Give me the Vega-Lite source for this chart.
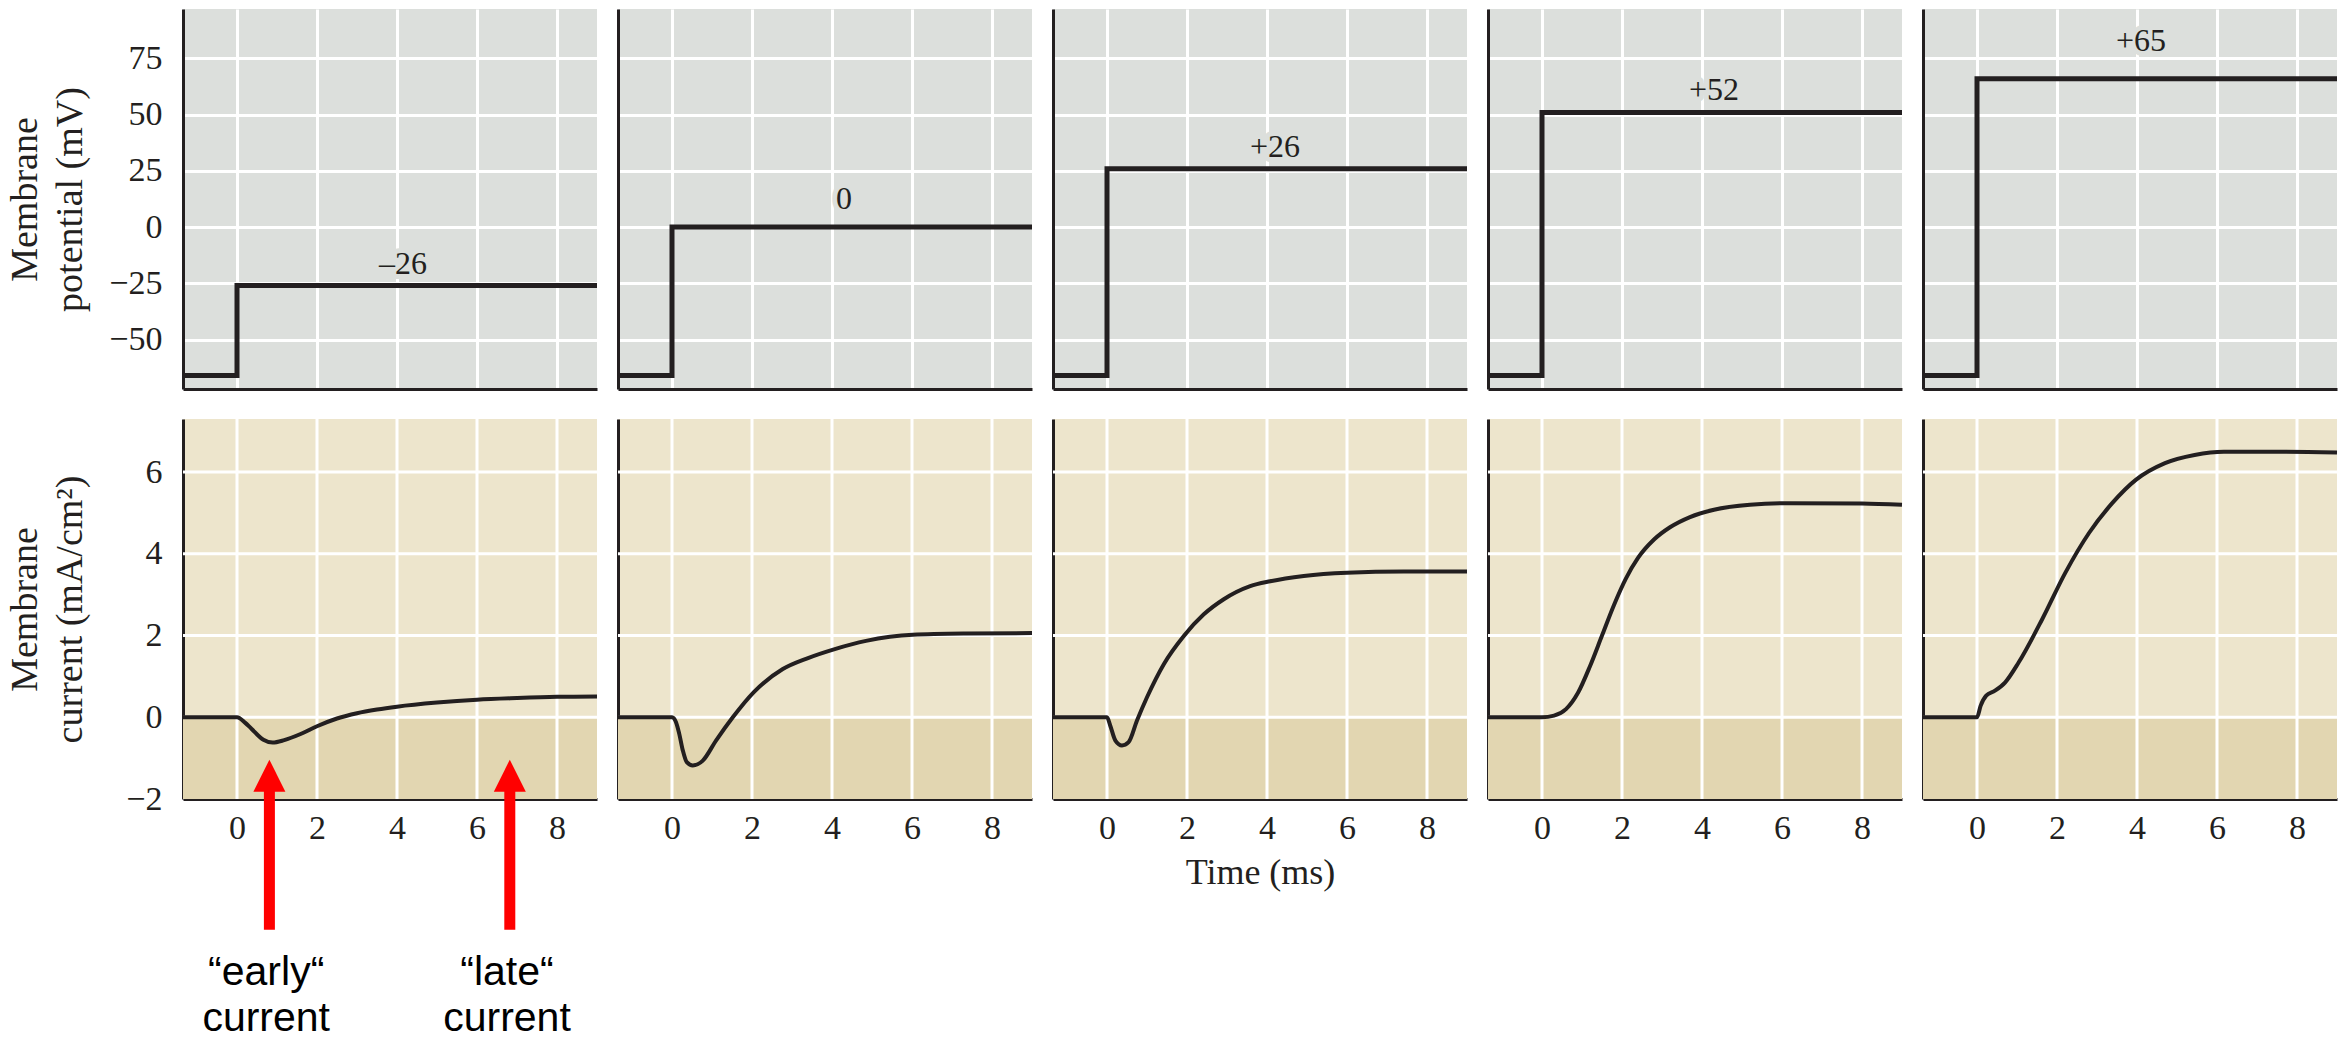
{
  "$schema": "https://vega.github.io/schema/vega-lite/v6.json",
  "padding": {"left": 6, "top": 9, "right": 4, "bottom": 0},
  "background": "#ffffff",
  "columns": 5,
  "spacing": {"row": 28, "column": 1},
  "datasets": {
    "vstep": [
      {"p": -26, "t": -1.35, "v": -66}, {"p": -26, "t": 0, "v": -26}, {"p": -26, "t": 9, "v": -26},
      {"p": 0, "t": -1.35, "v": -66}, {"p": 0, "t": 0, "v": 0}, {"p": 0, "t": 9, "v": 0},
      {"p": 26, "t": -1.35, "v": -66}, {"p": 26, "t": 0, "v": 26}, {"p": 26, "t": 9, "v": 26},
      {"p": 52, "t": -1.35, "v": -66}, {"p": 52, "t": 0, "v": 51}, {"p": 52, "t": 9, "v": 51},
      {"p": 65, "t": -1.35, "v": -66}, {"p": 65, "t": 0, "v": 66}, {"p": 65, "t": 9, "v": 66}
    ],
    "vlab": [
      {"p": -26, "t": 4.15, "ly": -16.3, "label": "–26"},
      {"p": 0, "t": 4.3, "ly": 12.5, "label": "0"},
      {"p": 26, "t": 4.2, "ly": 35.7, "label": "+26"},
      {"p": 52, "t": 4.3, "ly": 61, "label": "+52"},
      {"p": 65, "t": 4.1, "ly": 82.6, "label": "+65"}
    ],
    "cur": [
      {"p": -26, "t": -1.35, "i": 0}, {"p": -26, "t": 0, "i": 0}, {"p": -26, "t": 0.2, "i": -0.13}, {"p": -26, "t": 0.36, "i": -0.28},
      {"p": -26, "t": 0.66, "i": -0.55}, {"p": -26, "t": 0.89, "i": -0.62}, {"p": -26, "t": 1.18, "i": -0.56}, {"p": -26, "t": 1.59, "i": -0.41},
      {"p": -26, "t": 2.0, "i": -0.22}, {"p": -26, "t": 2.5, "i": -0.03}, {"p": -26, "t": 3.0, "i": 0.1}, {"p": -26, "t": 3.5, "i": 0.19},
      {"p": -26, "t": 4.0, "i": 0.26}, {"p": -26, "t": 5.0, "i": 0.36}, {"p": -26, "t": 6.0, "i": 0.43}, {"p": -26, "t": 7.0, "i": 0.47},
      {"p": -26, "t": 8.0, "i": 0.5}, {"p": -26, "t": 9.0, "i": 0.51},

      {"p": 0, "t": -1.35, "i": 0}, {"p": 0, "t": 0, "i": 0}, {"p": 0, "t": 0.1, "i": -0.12}, {"p": 0, "t": 0.18, "i": -0.4},
      {"p": 0, "t": 0.27, "i": -0.81}, {"p": 0, "t": 0.37, "i": -1.1}, {"p": 0, "t": 0.52, "i": -1.18}, {"p": 0, "t": 0.77, "i": -1.06},
      {"p": 0, "t": 1.1, "i": -0.57}, {"p": 0, "t": 1.52, "i": 0}, {"p": 0, "t": 2.04, "i": 0.61}, {"p": 0, "t": 2.77, "i": 1.18},
      {"p": 0, "t": 3.4, "i": 1.45}, {"p": 0, "t": 4.07, "i": 1.67}, {"p": 0, "t": 4.85, "i": 1.87}, {"p": 0, "t": 6.02, "i": 2.02},
      {"p": 0, "t": 7.35, "i": 2.05}, {"p": 0, "t": 9.0, "i": 2.06},

      {"p": 26, "t": -1.35, "i": 0}, {"p": 26, "t": 0, "i": 0}, {"p": 26, "t": 0.08, "i": -0.2}, {"p": 26, "t": 0.21, "i": -0.57},
      {"p": 26, "t": 0.375, "i": -0.69}, {"p": 26, "t": 0.54, "i": -0.61}, {"p": 26, "t": 0.75, "i": -0.08}, {"p": 26, "t": 1.0, "i": 0.49},
      {"p": 26, "t": 1.42, "i": 1.3}, {"p": 26, "t": 1.92, "i": 1.99}, {"p": 26, "t": 2.42, "i": 2.52}, {"p": 26, "t": 2.92, "i": 2.89},
      {"p": 26, "t": 3.58, "i": 3.21}, {"p": 26, "t": 4.08, "i": 3.33}, {"p": 26, "t": 4.92, "i": 3.46}, {"p": 26, "t": 6.0, "i": 3.54},
      {"p": 26, "t": 7.42, "i": 3.57}, {"p": 26, "t": 9.0, "i": 3.57},

      {"p": 52, "t": -1.35, "i": 0}, {"p": 52, "t": 0, "i": 0}, {"p": 52, "t": 0.3, "i": 0.04}, {"p": 52, "t": 0.6, "i": 0.2},
      {"p": 52, "t": 0.9, "i": 0.6}, {"p": 52, "t": 1.2, "i": 1.25}, {"p": 52, "t": 1.5, "i": 2.0}, {"p": 52, "t": 1.8, "i": 2.75},
      {"p": 52, "t": 2.1, "i": 3.4}, {"p": 52, "t": 2.4, "i": 3.9}, {"p": 52, "t": 2.8, "i": 4.35}, {"p": 52, "t": 3.2, "i": 4.65},
      {"p": 52, "t": 3.7, "i": 4.9}, {"p": 52, "t": 4.3, "i": 5.08}, {"p": 52, "t": 5.2, "i": 5.2}, {"p": 52, "t": 6.2, "i": 5.24},
      {"p": 52, "t": 8.0, "i": 5.23}, {"p": 52, "t": 9.0, "i": 5.2},

      {"p": 65, "t": -1.35, "i": 0}, {"p": 65, "t": 0, "i": 0}, {"p": 65, "t": 0.09, "i": 0.28}, {"p": 65, "t": 0.23, "i": 0.53},
      {"p": 65, "t": 0.45, "i": 0.65}, {"p": 65, "t": 0.7, "i": 0.85}, {"p": 65, "t": 1.04, "i": 1.34}, {"p": 65, "t": 1.63, "i": 2.4},
      {"p": 65, "t": 2.21, "i": 3.54}, {"p": 65, "t": 2.8, "i": 4.51}, {"p": 65, "t": 3.38, "i": 5.24}, {"p": 65, "t": 3.97, "i": 5.81},
      {"p": 65, "t": 4.7, "i": 6.22}, {"p": 65, "t": 5.44, "i": 6.42}, {"p": 65, "t": 6.17, "i": 6.5}, {"p": 65, "t": 7.6, "i": 6.5},
      {"p": 65, "t": 9.0, "i": 6.48}
    ],
    "shade": [{"t": -1.35, "t2": 9, "y": 0, "y2": -2}],
    "gx": [{"t": 0}, {"t": 2}, {"t": 4}, {"t": 6}, {"t": 8}],
    "gy": [{"y": 0}, {"y": 2}, {"y": 4}, {"y": 6}],
    "arrows": [
      {"t": 0.81, "yh": -1.43, "ys": -1.7, "yb": -5.2},
      {"t": 6.82, "yh": -1.43, "ys": -1.7, "yb": -5.2}
    ],
    "notes": [
      {"t": 0.73, "y": -6.56, "label": "“early“\ncurrent"},
      {"t": 6.75, "y": -6.56, "label": "“late“\ncurrent"}
    ]
  },
  "concat": [
    {"width": 414, "height": 380, "view": {"fill": "#dcdfdc"}, "layer": [
      {"data": {"name": "vstep"}, "transform": [{"filter": "datum.p == -26"}],
       "mark": {"type": "line", "interpolate": "step-after", "color": "#231f20", "strokeWidth": 5},
       "encoding": {
         "x": {"field": "t", "type": "quantitative", "scale": {"domain": [-1.35, 9], "nice": false, "zero": false}, "axis": {"values": [0, 2, 4, 6, 8], "labels": false, "title": null, "grid": true}},
         "y": {"field": "v", "type": "quantitative", "scale": {"domain": [-72, 97], "nice": false, "zero": false}, "axis": {"values": [-50, -25, 0, 25, 50, 75], "grid": true, "title": ["Membrane", "potential (mV)"], "minExtent": 74, "maxExtent": 74}}}},
      {"data": {"name": "vlab"}, "transform": [{"filter": "datum.p == -26"}],
       "mark": {"type": "text", "font": "Liberation Serif", "fontSize": 32, "baseline": "middle", "fill": "#dcdfdc", "stroke": "#dcdfdc", "strokeWidth": 10, "strokeJoin": "round"},
       "encoding": {"x": {"field": "t", "type": "quantitative"}, "y": {"field": "ly", "type": "quantitative"}, "text": {"field": "label"}}},
      {"data": {"name": "vlab"}, "transform": [{"filter": "datum.p == -26"}],
       "mark": {"type": "text", "font": "Liberation Serif", "fontSize": 32, "baseline": "middle", "color": "#231f20"},
       "encoding": {"x": {"field": "t", "type": "quantitative"}, "y": {"field": "ly", "type": "quantitative"}, "text": {"field": "label"}}}
    ]},
    {"width": 414, "height": 380, "view": {"fill": "#dcdfdc"}, "layer": [
      {"data": {"name": "vstep"}, "transform": [{"filter": "datum.p == 0"}],
       "mark": {"type": "line", "interpolate": "step-after", "color": "#231f20", "strokeWidth": 5},
       "encoding": {
         "x": {"field": "t", "type": "quantitative", "scale": {"domain": [-1.35, 9], "nice": false, "zero": false}, "axis": {"values": [0, 2, 4, 6, 8], "labels": false, "title": null, "grid": true}},
         "y": {"field": "v", "type": "quantitative", "scale": {"domain": [-72, 97], "nice": false, "zero": false}, "axis": {"values": [-50, -25, 0, 25, 50, 75], "grid": true, "labels": false, "labelPadding": 0, "title": null, "minExtent": 0}}}},
      {"data": {"name": "vlab"}, "transform": [{"filter": "datum.p == 0"}],
       "mark": {"type": "text", "font": "Liberation Serif", "fontSize": 32, "baseline": "middle", "fill": "#dcdfdc", "stroke": "#dcdfdc", "strokeWidth": 10, "strokeJoin": "round"},
       "encoding": {"x": {"field": "t", "type": "quantitative"}, "y": {"field": "ly", "type": "quantitative"}, "text": {"field": "label"}}},
      {"data": {"name": "vlab"}, "transform": [{"filter": "datum.p == 0"}],
       "mark": {"type": "text", "font": "Liberation Serif", "fontSize": 32, "baseline": "middle", "color": "#231f20"},
       "encoding": {"x": {"field": "t", "type": "quantitative"}, "y": {"field": "ly", "type": "quantitative"}, "text": {"field": "label"}}}
    ]},
    {"width": 414, "height": 380, "view": {"fill": "#dcdfdc"}, "layer": [
      {"data": {"name": "vstep"}, "transform": [{"filter": "datum.p == 26"}],
       "mark": {"type": "line", "interpolate": "step-after", "color": "#231f20", "strokeWidth": 5},
       "encoding": {
         "x": {"field": "t", "type": "quantitative", "scale": {"domain": [-1.35, 9], "nice": false, "zero": false}, "axis": {"values": [0, 2, 4, 6, 8], "labels": false, "title": null, "grid": true}},
         "y": {"field": "v", "type": "quantitative", "scale": {"domain": [-72, 97], "nice": false, "zero": false}, "axis": {"values": [-50, -25, 0, 25, 50, 75], "grid": true, "labels": false, "labelPadding": 0, "title": null, "minExtent": 0}}}},
      {"data": {"name": "vlab"}, "transform": [{"filter": "datum.p == 26"}],
       "mark": {"type": "text", "font": "Liberation Serif", "fontSize": 32, "baseline": "middle", "fill": "#dcdfdc", "stroke": "#dcdfdc", "strokeWidth": 10, "strokeJoin": "round"},
       "encoding": {"x": {"field": "t", "type": "quantitative"}, "y": {"field": "ly", "type": "quantitative"}, "text": {"field": "label"}}},
      {"data": {"name": "vlab"}, "transform": [{"filter": "datum.p == 26"}],
       "mark": {"type": "text", "font": "Liberation Serif", "fontSize": 32, "baseline": "middle", "color": "#231f20"},
       "encoding": {"x": {"field": "t", "type": "quantitative"}, "y": {"field": "ly", "type": "quantitative"}, "text": {"field": "label"}}}
    ]},
    {"width": 414, "height": 380, "view": {"fill": "#dcdfdc"}, "layer": [
      {"data": {"name": "vstep"}, "transform": [{"filter": "datum.p == 52"}],
       "mark": {"type": "line", "interpolate": "step-after", "color": "#231f20", "strokeWidth": 5},
       "encoding": {
         "x": {"field": "t", "type": "quantitative", "scale": {"domain": [-1.35, 9], "nice": false, "zero": false}, "axis": {"values": [0, 2, 4, 6, 8], "labels": false, "title": null, "grid": true}},
         "y": {"field": "v", "type": "quantitative", "scale": {"domain": [-72, 97], "nice": false, "zero": false}, "axis": {"values": [-50, -25, 0, 25, 50, 75], "grid": true, "labels": false, "labelPadding": 0, "title": null, "minExtent": 0}}}},
      {"data": {"name": "vlab"}, "transform": [{"filter": "datum.p == 52"}],
       "mark": {"type": "text", "font": "Liberation Serif", "fontSize": 32, "baseline": "middle", "fill": "#dcdfdc", "stroke": "#dcdfdc", "strokeWidth": 10, "strokeJoin": "round"},
       "encoding": {"x": {"field": "t", "type": "quantitative"}, "y": {"field": "ly", "type": "quantitative"}, "text": {"field": "label"}}},
      {"data": {"name": "vlab"}, "transform": [{"filter": "datum.p == 52"}],
       "mark": {"type": "text", "font": "Liberation Serif", "fontSize": 32, "baseline": "middle", "color": "#231f20"},
       "encoding": {"x": {"field": "t", "type": "quantitative"}, "y": {"field": "ly", "type": "quantitative"}, "text": {"field": "label"}}}
    ]},
    {"width": 414, "height": 380, "view": {"fill": "#dcdfdc"}, "layer": [
      {"data": {"name": "vstep"}, "transform": [{"filter": "datum.p == 65"}],
       "mark": {"type": "line", "interpolate": "step-after", "color": "#231f20", "strokeWidth": 5},
       "encoding": {
         "x": {"field": "t", "type": "quantitative", "scale": {"domain": [-1.35, 9], "nice": false, "zero": false}, "axis": {"values": [0, 2, 4, 6, 8], "labels": false, "title": null, "grid": true}},
         "y": {"field": "v", "type": "quantitative", "scale": {"domain": [-72, 97], "nice": false, "zero": false}, "axis": {"values": [-50, -25, 0, 25, 50, 75], "grid": true, "labels": false, "labelPadding": 0, "title": null, "minExtent": 0}}}},
      {"data": {"name": "vlab"}, "transform": [{"filter": "datum.p == 65"}],
       "mark": {"type": "text", "font": "Liberation Serif", "fontSize": 32, "baseline": "middle", "fill": "#dcdfdc", "stroke": "#dcdfdc", "strokeWidth": 10, "strokeJoin": "round"},
       "encoding": {"x": {"field": "t", "type": "quantitative"}, "y": {"field": "ly", "type": "quantitative"}, "text": {"field": "label"}}},
      {"data": {"name": "vlab"}, "transform": [{"filter": "datum.p == 65"}],
       "mark": {"type": "text", "font": "Liberation Serif", "fontSize": 32, "baseline": "middle", "color": "#231f20"},
       "encoding": {"x": {"field": "t", "type": "quantitative"}, "y": {"field": "ly", "type": "quantitative"}, "text": {"field": "label"}}}
    ]},

    {"width": 414, "height": 380, "view": {"fill": "#ede5cc"}, "layer": [
      {"data": {"name": "shade"}, "mark": {"type": "rect", "color": "#e2d6b1"},
       "encoding": {"x": {"field": "t", "type": "quantitative"}, "x2": {"field": "t2"}, "y": {"field": "y", "type": "quantitative"}, "y2": {"field": "y2"}}},
      {"data": {"name": "gx"}, "mark": {"type": "rule", "color": "#ffffff", "strokeWidth": 3}, "encoding": {"x": {"field": "t", "type": "quantitative"}}},
      {"data": {"name": "gy"}, "mark": {"type": "rule", "color": "#ffffff", "strokeWidth": 3}, "encoding": {"y": {"field": "y", "type": "quantitative"}}},
      {"data": {"name": "cur"}, "transform": [{"filter": "datum.p == -26"}],
       "mark": {"type": "line", "interpolate": "monotone", "color": "#231f20", "strokeWidth": 4},
       "encoding": {
         "x": {"field": "t", "type": "quantitative", "scale": {"domain": [-1.35, 9], "nice": false, "zero": false}, "axis": {"values": [0, 2, 4, 6, 8], "grid": false, "title": null}},
         "y": {"field": "i", "type": "quantitative", "scale": {"domain": [-2, 7.3], "nice": false, "zero": false}, "axis": {"values": [-2, 0, 2, 4, 6], "grid": false, "title": ["Membrane", "current (mA/cm²)"], "minExtent": 74, "maxExtent": 74}}}},
      {"data": {"name": "arrows"}, "mark": {"type": "rule", "color": "#ff0000", "strokeWidth": 11, "strokeCap": "butt"},
       "encoding": {"x": {"field": "t", "type": "quantitative"}, "y": {"field": "ys", "type": "quantitative"}, "y2": {"field": "yb"}}},
      {"data": {"name": "arrows"}, "mark": {"type": "point", "shape": "M0,-1L1,1L-1,1Z", "size": 1024, "filled": true, "color": "#ff0000", "opacity": 1, "strokeWidth": 0},
       "encoding": {"x": {"field": "t", "type": "quantitative"}, "y": {"field": "yh", "type": "quantitative"}}},
      {"data": {"name": "notes"}, "mark": {"type": "text", "font": "Liberation Sans", "fontSize": 41, "lineHeight": 46, "lineBreak": "\n", "align": "center", "baseline": "alphabetic", "color": "#000000"},
       "encoding": {"x": {"field": "t", "type": "quantitative"}, "y": {"field": "y", "type": "quantitative"}, "text": {"field": "label"}}}
    ]},
    {"width": 414, "height": 380, "view": {"fill": "#ede5cc"}, "layer": [
      {"data": {"name": "shade"}, "mark": {"type": "rect", "color": "#e2d6b1"},
       "encoding": {"x": {"field": "t", "type": "quantitative"}, "x2": {"field": "t2"}, "y": {"field": "y", "type": "quantitative"}, "y2": {"field": "y2"}}},
      {"data": {"name": "gx"}, "mark": {"type": "rule", "color": "#ffffff", "strokeWidth": 3}, "encoding": {"x": {"field": "t", "type": "quantitative"}}},
      {"data": {"name": "gy"}, "mark": {"type": "rule", "color": "#ffffff", "strokeWidth": 3}, "encoding": {"y": {"field": "y", "type": "quantitative"}}},
      {"data": {"name": "cur"}, "transform": [{"filter": "datum.p == 0"}],
       "mark": {"type": "line", "interpolate": "monotone", "color": "#231f20", "strokeWidth": 4},
       "encoding": {
         "x": {"field": "t", "type": "quantitative", "scale": {"domain": [-1.35, 9], "nice": false, "zero": false}, "axis": {"values": [0, 2, 4, 6, 8], "grid": false, "title": null}},
         "y": {"field": "i", "type": "quantitative", "scale": {"domain": [-2, 7.3], "nice": false, "zero": false}, "axis": {"values": [-2, 0, 2, 4, 6], "grid": false, "labels": false, "labelPadding": 0, "title": null, "minExtent": 0}}}}
    ]},
    {"width": 414, "height": 380, "view": {"fill": "#ede5cc"}, "layer": [
      {"data": {"name": "shade"}, "mark": {"type": "rect", "color": "#e2d6b1"},
       "encoding": {"x": {"field": "t", "type": "quantitative"}, "x2": {"field": "t2"}, "y": {"field": "y", "type": "quantitative"}, "y2": {"field": "y2"}}},
      {"data": {"name": "gx"}, "mark": {"type": "rule", "color": "#ffffff", "strokeWidth": 3}, "encoding": {"x": {"field": "t", "type": "quantitative"}}},
      {"data": {"name": "gy"}, "mark": {"type": "rule", "color": "#ffffff", "strokeWidth": 3}, "encoding": {"y": {"field": "y", "type": "quantitative"}}},
      {"data": {"name": "cur"}, "transform": [{"filter": "datum.p == 26"}],
       "mark": {"type": "line", "interpolate": "monotone", "color": "#231f20", "strokeWidth": 4},
       "encoding": {
         "x": {"field": "t", "type": "quantitative", "scale": {"domain": [-1.35, 9], "nice": false, "zero": false}, "axis": {"values": [0, 2, 4, 6, 8], "grid": false, "title": "Time (ms)"}},
         "y": {"field": "i", "type": "quantitative", "scale": {"domain": [-2, 7.3], "nice": false, "zero": false}, "axis": {"values": [-2, 0, 2, 4, 6], "grid": false, "labels": false, "labelPadding": 0, "title": null, "minExtent": 0}}}}
    ]},
    {"width": 414, "height": 380, "view": {"fill": "#ede5cc"}, "layer": [
      {"data": {"name": "shade"}, "mark": {"type": "rect", "color": "#e2d6b1"},
       "encoding": {"x": {"field": "t", "type": "quantitative"}, "x2": {"field": "t2"}, "y": {"field": "y", "type": "quantitative"}, "y2": {"field": "y2"}}},
      {"data": {"name": "gx"}, "mark": {"type": "rule", "color": "#ffffff", "strokeWidth": 3}, "encoding": {"x": {"field": "t", "type": "quantitative"}}},
      {"data": {"name": "gy"}, "mark": {"type": "rule", "color": "#ffffff", "strokeWidth": 3}, "encoding": {"y": {"field": "y", "type": "quantitative"}}},
      {"data": {"name": "cur"}, "transform": [{"filter": "datum.p == 52"}],
       "mark": {"type": "line", "interpolate": "monotone", "color": "#231f20", "strokeWidth": 4},
       "encoding": {
         "x": {"field": "t", "type": "quantitative", "scale": {"domain": [-1.35, 9], "nice": false, "zero": false}, "axis": {"values": [0, 2, 4, 6, 8], "grid": false, "title": null}},
         "y": {"field": "i", "type": "quantitative", "scale": {"domain": [-2, 7.3], "nice": false, "zero": false}, "axis": {"values": [-2, 0, 2, 4, 6], "grid": false, "labels": false, "labelPadding": 0, "title": null, "minExtent": 0}}}}
    ]},
    {"width": 414, "height": 380, "view": {"fill": "#ede5cc"}, "layer": [
      {"data": {"name": "shade"}, "mark": {"type": "rect", "color": "#e2d6b1"},
       "encoding": {"x": {"field": "t", "type": "quantitative"}, "x2": {"field": "t2"}, "y": {"field": "y", "type": "quantitative"}, "y2": {"field": "y2"}}},
      {"data": {"name": "gx"}, "mark": {"type": "rule", "color": "#ffffff", "strokeWidth": 3}, "encoding": {"x": {"field": "t", "type": "quantitative"}}},
      {"data": {"name": "gy"}, "mark": {"type": "rule", "color": "#ffffff", "strokeWidth": 3}, "encoding": {"y": {"field": "y", "type": "quantitative"}}},
      {"data": {"name": "cur"}, "transform": [{"filter": "datum.p == 65"}],
       "mark": {"type": "line", "interpolate": "monotone", "color": "#231f20", "strokeWidth": 4},
       "encoding": {
         "x": {"field": "t", "type": "quantitative", "scale": {"domain": [-1.35, 9], "nice": false, "zero": false}, "axis": {"values": [0, 2, 4, 6, 8], "grid": false, "title": null}},
         "y": {"field": "i", "type": "quantitative", "scale": {"domain": [-2, 7.3], "nice": false, "zero": false}, "axis": {"values": [-2, 0, 2, 4, 6], "grid": false, "labels": false, "labelPadding": 0, "title": null, "minExtent": 0}}}}
    ]}
  ],
  "config": {
    "view": {"stroke": null},
    "axis": {
      "domainColor": "#231f20", "domainWidth": 3, "ticks": false, "tickSize": 0,
      "labelFont": "Liberation Serif", "labelFontSize": 34, "labelColor": "#231f20", "labelFlush": false, "labelOverlap": false,
      "titleFont": "Liberation Serif", "titleFontWeight": "normal", "titleColor": "#231f20", "titleLineHeight": 45,
      "gridColor": "#ffffff", "gridWidth": 3, "gridOpacity": 1
    },
    "axisX": {"labelPadding": 12, "titlePadding": 10, "titleFontSize": 36},
    "axisY": {"labelPadding": 21, "titlePadding": 20, "titleFontSize": 38}
  }
}
